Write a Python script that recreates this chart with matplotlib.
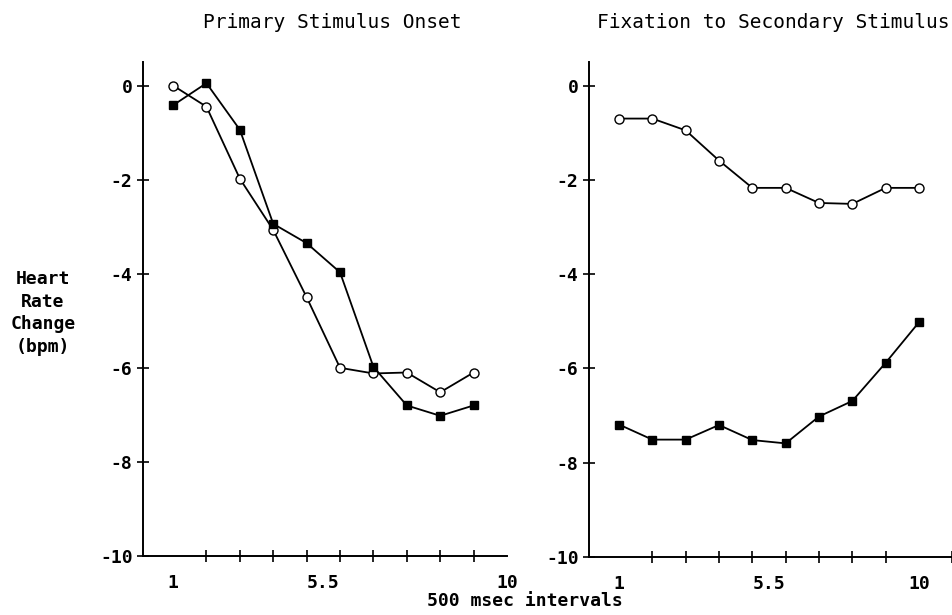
import numpy as np
import matplotlib.pyplot as plt
#-----------------------------------------------------------------------------------------#

intervals = np.arange(1, 11)

# Primary stimulus onset
primary_open = [0.0, -0.45, -1.98, -3.07, -4.5, -6.0, -6.12, -6.1, -6.52, -6.1]
primary_filled = [-0.42, 0.05, -0.94, -2.94, -3.35, -3.97, -5.98, -6.8, -7.02, -6.8]

# Fixation to secondary stimulus
secondary_open = [-0.7, -0.7, -0.95, -1.59, -2.17, -2.17, -2.49, -2.51, -2.17, -2.17]
secondary_filled = [-7.19, -7.51, -7.51, -7.2, -7.52, -7.59, -7.02, -6.69, -5.88, -5.02]

titles = ['Primary Stimulus Onset', 'Fixation to Secondary Stimulus']
yticks = [0, -2, -4, -6, -8, -10]
xtick_labels = ['1', '5.5', '10']
left_label_pos = [1, 5.5, 11]
right_label_pos = [1, 5.5, 10]

#-----------------------------------------------------------------------------------------#

mono = 'DejaVu Sans Mono'
W, H = 952, 615
fig = plt.figure(figsize=(W / 100, H / 100), dpi=100)

def px_box(x0, x1, y_top, y_bot):
    return [x0 / W, 1 - y_bot / H, (x1 - x0) / W, (y_bot - y_top) / H]

ax1 = fig.add_axes(px_box(143, 507, 62, 556))
ax2 = fig.add_axes(px_box(589, 959, 62, 557))

def style_axis(ax, label_pos, xmax):
    for s in ['top', 'right']:
        ax.spines[s].set_visible(False)
    for s in ['left', 'bottom']:
        ax.spines[s].set_linewidth(1.4)
    ax.set_xlim(0.1, xmax)
    ax.set_ylim(-10, 0.5)
    ax.set_xticks(np.arange(1, 12), minor=True)
    ax.set_xticks(label_pos)
    ax.set_xticklabels(xtick_labels)
    ax.set_yticks(yticks)
    ax.set_yticklabels([str(v) for v in yticks])
    ax.tick_params(axis='x', which='minor', direction='inout', length=9, width=1.2)
    ax.tick_params(axis='x', which='major', length=0, pad=13)
    ax.tick_params(axis='y', direction='inout', length=9, width=1.2, pad=3)
    for lab in ax.get_xticklabels() + ax.get_yticklabels():
        lab.set_fontfamily(mono)
        lab.set_fontweight('bold')
        lab.set_fontsize(13)

def plot_pair(ax, open_vals, filled_vals):
    ax.plot(intervals, open_vals, color='black', lw=1.3, marker='o', ms=6.5,
            mfc='white', mec='black', mew=1.0, clip_on=False)
    ax.plot(intervals, filled_vals, color='black', lw=1.3, marker='s', ms=6,
            mfc='black', mec='black', clip_on=False)

plot_pair(ax1, primary_open, primary_filled)
plot_pair(ax2, secondary_open, secondary_filled)
style_axis(ax1, left_label_pos, 11)
style_axis(ax2, right_label_pos, 11.2)

fig.text(332 / W, 1 - 22 / H, titles[0], fontfamily=mono, fontsize=14,
         ha='center', va='center')
fig.text(773 / W, 1 - 22 / H, titles[1], fontfamily=mono, fontsize=14,
         ha='center', va='center')
fig.text(525 / W, 1 - 601 / H, '500 msec intervals', fontfamily=mono,
         fontsize=13, fontweight='bold', ha='center', va='center')
fig.text(43 / W, 1 - 313 / H, 'Heart\nRate\nChange\n(bpm)', fontfamily=mono,
         fontsize=13, fontweight='bold', ha='center', va='center',
         multialignment='center', linespacing=1.33)

fig.savefig('out.png', dpi=100)
